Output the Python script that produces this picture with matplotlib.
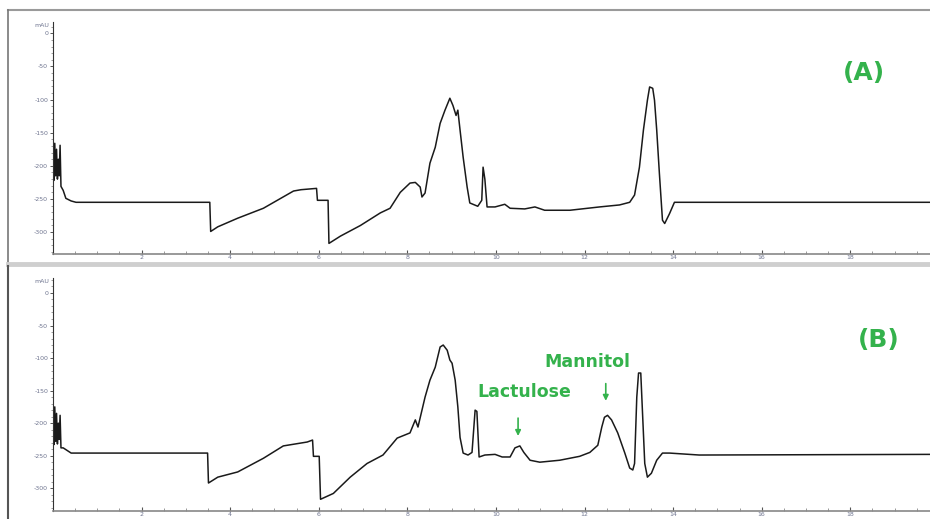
import matplotlib
matplotlib.use("Agg")
import matplotlib.pyplot as plt
from matplotlib.lines import Line2D
from matplotlib.ticker import MultipleLocator, FixedLocator

# Cromatograma (A): tiempo (min) y señal (mAU)
t_a = [0.00, 0.02, 0.04, 0.06, 0.08, 0.10, 0.12, 0.14, 0.16, 0.18, 0.23, 0.29, 0.41, 0.52,
       3.54, 3.56, 3.72, 4.17, 4.75, 5.43, 5.60, 5.95, 5.97, 6.21, 6.23, 6.49, 6.94, 7.39,
       7.61, 7.84, 8.06, 8.18, 8.29, 8.33, 8.40, 8.51, 8.63, 8.74, 8.85, 8.96, 9.03, 9.10,
       9.14, 9.19, 9.26, 9.35, 9.41, 9.59, 9.68, 9.71, 9.75, 9.80, 9.98, 10.20, 10.32,
       10.65, 10.88, 11.10, 11.67, 12.34, 12.79, 13.02, 13.13, 13.24, 13.33, 13.42, 13.47,
       13.54, 13.58, 13.63, 13.69, 13.76, 13.81, 13.92, 14.03, 14.59, 19.80]
s_a = [-200, -222, -166, -215, -175, -220, -190, -215, -169, -231, -237, -249, -253, -255,
       -255, -299, -292, -279, -264, -238, -236, -234, -252, -252, -317, -306, -290, -271,
       -264, -240, -226, -225, -232, -247, -241, -196, -172, -136, -116, -98, -109, -124,
       -116, -146, -187, -232, -256, -261, -252, -202, -220, -262, -262, -258, -264,
       -265, -262, -267, -267, -262, -259, -255, -244, -202, -146, -101, -81,
       -83, -101, -146, -211, -282, -287, -272, -255, -255, -255]

# Cromatograma (B)
t_b = [0.00, 0.02, 0.04, 0.06, 0.08, 0.10, 0.12, 0.14, 0.16, 0.18, 0.23, 0.41, 0.60,
       3.49, 3.51, 3.72, 4.17, 4.75, 5.20, 5.74, 5.86, 5.88, 6.01, 6.04, 6.33, 6.71, 7.09,
       7.45, 7.77, 8.06, 8.18, 8.24, 8.40, 8.51, 8.63, 8.74, 8.81, 8.90, 8.96, 9.01, 9.08,
       9.14, 9.19, 9.26, 9.37, 9.46, 9.53, 9.57, 9.62, 9.75, 9.98, 10.14, 10.32, 10.43,
       10.54, 10.63, 10.77, 10.99, 11.44, 11.89, 12.12, 12.30, 12.39, 12.45, 12.52, 12.61,
       12.75, 12.91, 13.02, 13.09, 13.13, 13.18, 13.22, 13.27, 13.31, 13.36, 13.42, 13.51,
       13.63, 13.76, 13.92, 14.59, 19.80]
s_b = [-210, -233, -175, -228, -185, -232, -200, -225, -188, -238, -238, -246, -246,
       -246, -292, -283, -275, -254, -235, -229, -226, -251, -251, -317, -308, -283, -262,
       -249, -223, -215, -195, -206, -160, -134, -114, -83, -80, -88, -103, -108, -134,
       -175, -222, -246, -249, -245, -180, -182, -252, -249, -248, -252, -252, -238,
       -235, -245, -257, -260, -257, -251, -245, -234, -206, -191, -188, -195,
       -215, -246, -269, -272, -262, -160, -123, -123, -185, -262, -283, -277,
       -257, -246, -246, -249, -248]

x_ticks = [2, 4, 6, 8, 10, 12, 14, 16, 18]
y_ticks = [0, -50, -100, -150, -200, -250, -300]
verde = "#34b24c"
gris_tick = "#6f7590"

fig = plt.figure(figsize=(9.3, 5.19), dpi=100)

ax_a = fig.add_axes([53 / 930, 1 - 254 / 519, 1 - 53 / 930, (254 - 22) / 519])
ax_b = fig.add_axes([53 / 930, 1 - 511 / 519, 1 - 53 / 930, (511 - 278) / 519])

for ax, t, s, ylim in [(ax_a, t_a, s_a, (-333, 17)), (ax_b, t_b, s_b, (-335, 23))]:
    ax.plot(t, s, color="#1a1a1a", lw=1.1)
    ax.set_xlim(0, 19.8)
    ax.set_ylim(*ylim)
    for lado in ["top", "right"]:
        ax.spines[lado].set_visible(False)
    ax.spines["left"].set_color("#333333")
    ax.spines["bottom"].set_color("#888888")
    ax.spines["left"].set_linewidth(0.8)
    ax.spines["bottom"].set_linewidth(1.2)
    ax.xaxis.set_major_locator(FixedLocator(x_ticks))
    ax.xaxis.set_minor_locator(MultipleLocator(0.5))
    ax.yaxis.set_major_locator(FixedLocator(y_ticks))
    ax.yaxis.set_minor_locator(MultipleLocator(10))
    ax.tick_params(axis="x", which="major", direction="in", length=3, width=0.8,
                   labelsize=4.5, labelcolor=gris_tick, pad=1, color="#555555")
    ax.tick_params(axis="x", which="minor", direction="in", length=2, width=0.6,
                   color="#888888")
    ax.tick_params(axis="y", which="major", direction="out", length=2.5, width=0.7,
                   labelsize=4.5, labelcolor=gris_tick, pad=1, color="#555555")
    ax.tick_params(axis="y", which="minor", direction="out", length=1.5, width=0.5,
                   color="#777777")
    ax.set_xticklabels([str(v) for v in x_ticks])
    ax.set_yticklabels([str(v) for v in y_ticks])
    ax.text(-0.004, 0.985, "mAU", transform=ax.transAxes, ha="right", va="center",
            fontsize=4.5, color=gris_tick)
    ax.patch.set_alpha(0)

ax_a.text(18.3, -60, "(A)", ha="center", va="center", fontsize=18,
          fontweight="bold", color=verde)
ax_b.text(18.65, -72, "(B)", ha="center", va="center", fontsize=18,
          fontweight="bold", color=verde)

ax_b.text(12.07, -106, "Mannitol", ha="center", va="center", fontsize=12.5,
          fontweight="bold", color=verde)
ax_b.text(10.65, -152, "Lactulose", ha="center", va="center", fontsize=12.5,
          fontweight="bold", color=verde)
ax_b.annotate("", xy=(12.48, -170), xytext=(12.48, -135),
              arrowprops=dict(arrowstyle="-|>", color=verde, lw=1.2, mutation_scale=8))
ax_b.annotate("", xy=(10.5, -224), xytext=(10.5, -188),
              arrowprops=dict(arrowstyle="-|>", color=verde, lw=1.2, mutation_scale=8))

# marcos grises de los paneles
fig.add_artist(Line2D([8 / 930, 1], [1 - 10 / 519, 1 - 10 / 519], color="#9a9a9a", lw=1.5))
fig.add_artist(Line2D([8 / 930, 8 / 930], [1 - 10 / 519, 1 - 263 / 519], color="#777777", lw=1.2))
fig.add_artist(Line2D([8 / 930, 1], [1 - 264 / 519, 1 - 264 / 519], color="#cfcfcf", lw=3.5))
fig.add_artist(Line2D([8 / 930, 8 / 930], [1 - 266 / 519, 0], color="#555555", lw=1.5))

fig.savefig("out.png", dpi=100)
